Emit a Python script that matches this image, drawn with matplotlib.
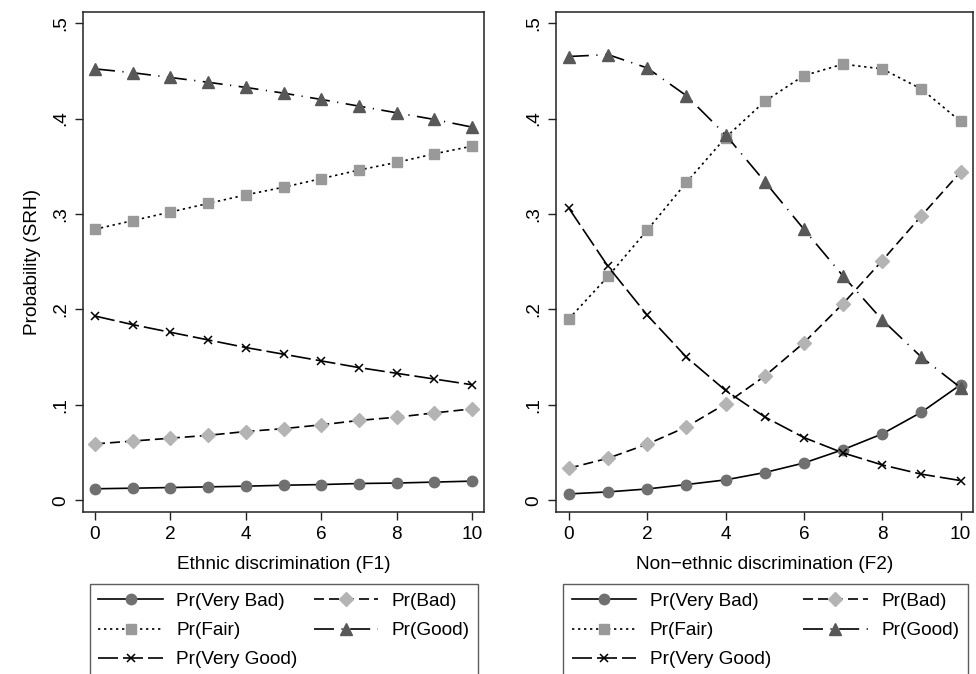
import matplotlib.pyplot as plt
from matplotlib.ticker import FuncFormatter
import numpy as np

plt.rcParams['font.family'] = ['Liberation Sans', 'DejaVu Sans']

x = np.arange(11)

# Ethnic discrimination (F1)
f1_very_bad = [0.012, 0.0126, 0.0133, 0.014, 0.0147, 0.0157, 0.0164, 0.0175, 0.018, 0.019, 0.020]
f1_bad = [0.059, 0.062, 0.065, 0.068, 0.072, 0.075, 0.079, 0.0836, 0.087, 0.0915, 0.0957]
f1_fair = [0.284, 0.293, 0.302, 0.311, 0.320, 0.328, 0.337, 0.346, 0.354, 0.363, 0.371]
f1_good = [0.452, 0.448, 0.443, 0.438, 0.4326, 0.4266, 0.420, 0.413, 0.406, 0.399, 0.391]
f1_very_good = [0.193, 0.184, 0.176, 0.168, 0.160, 0.153, 0.146, 0.139, 0.133, 0.127, 0.121]

# Non-ethnic discrimination (F2)
f2_very_bad = [0.0066, 0.0087, 0.0118, 0.0164, 0.0213, 0.029, 0.039, 0.053, 0.0695, 0.0922, 0.121]
f2_bad = [0.0335, 0.044, 0.0587, 0.0768, 0.101, 0.130, 0.165, 0.206, 0.251, 0.298, 0.344]
f2_fair = [0.190, 0.2345, 0.283, 0.333, 0.380, 0.418, 0.445, 0.457, 0.452, 0.431, 0.397]
f2_good = [0.465, 0.467, 0.453, 0.424, 0.383, 0.334, 0.284, 0.235, 0.189, 0.150, 0.118]
f2_very_good = [0.306, 0.245, 0.194, 0.150, 0.115, 0.0873, 0.0657, 0.0496, 0.037, 0.0273, 0.0206]

labels = ['Pr(Very Bad)', 'Pr(Bad)', 'Pr(Fair)', 'Pr(Good)', 'Pr(Very Good)']
xlabels = ['Ethnic discrimination (F1)', 'Non\u2212ethnic discrimination (F2)']

styles = [
    dict(marker='o', mfc='#707070', ms=7.5, ls='-'),
    dict(marker='D', mfc='#b4b4b4', ms=7, dashes=(6, 3)),
    dict(marker='s', mfc='#999999', ms=7, dashes=(1.4, 2.2)),
    dict(marker='^', mfc='#585858', ms=8.5, dashes=(12, 4.5, 0.7, 4.5)),
    dict(marker='x', mfc='black', ms=5.5, mew=1.1, dashes=(12, 3)),
]

FS = 13.7


def yfmt(v, pos):
    if abs(v) < 1e-9:
        return '0'
    return ('%.1f' % v).lstrip('0')


fig = plt.figure(figsize=(9.76, 6.74), dpi=100)
ax1 = fig.add_axes([0.085, 0.240, 0.411, 0.742])
ax2 = fig.add_axes([0.570, 0.240, 0.427, 0.742])

panels = [
    (ax1, [f1_very_bad, f1_bad, f1_fair, f1_good, f1_very_good], 0.017, 0.968),
    (ax2, [f2_very_bad, f2_bad, f2_fair, f2_good, f2_very_good], 0.016, 0.971),
]

for i, (ax, series, lx, lw) in enumerate(panels):
    handles = []
    for s, st, lab in zip(series, styles, labels):
        mec = 'black' if st['marker'] == 'x' else st['mfc']
        h, = ax.plot(x, s, color='black', lw=1.2, mec=mec, label=lab, **st)
        handles.append(h)
    ax.set_xlim(-0.32, 10.32)
    ax.set_ylim(-0.0126, 0.5115)
    ax.set_xticks(range(0, 11, 2))
    ax.set_yticks(np.arange(0, 0.51, 0.1))
    ax.yaxis.set_major_formatter(FuncFormatter(yfmt))
    ax.tick_params(direction='out', length=6, width=1, labelsize=FS, pad=4, color='#222222')
    for t in ax.get_yticklabels():
        t.set_rotation(90)
        t.set_va('center')
    for sp in ax.spines.values():
        sp.set_linewidth(1.1)
        sp.set_color('#222222')
    ax.set_xlabel(xlabels[i], fontsize=FS, labelpad=9)
    if i == 0:
        ax.set_ylabel('Probability (SRH)', fontsize=FS, labelpad=8)
    order = [0, 2, 4, 1, 3]
    leg = ax.legend([handles[k] for k in order], [labels[k] for k in order],
                    ncol=2, loc='upper left', bbox_to_anchor=(lx, -0.244, lw, 0.1),
                    mode='expand', fontsize=FS, frameon=True, fancybox=False,
                    edgecolor='#333333', handlelength=3.4, handletextpad=0.7,
                    numpoints=1, borderaxespad=0, labelspacing=0.62,
                    borderpad=0.45, columnspacing=1.5)
    leg.get_frame().set_linewidth(1.0)

fig.savefig('out.png', dpi=100)
